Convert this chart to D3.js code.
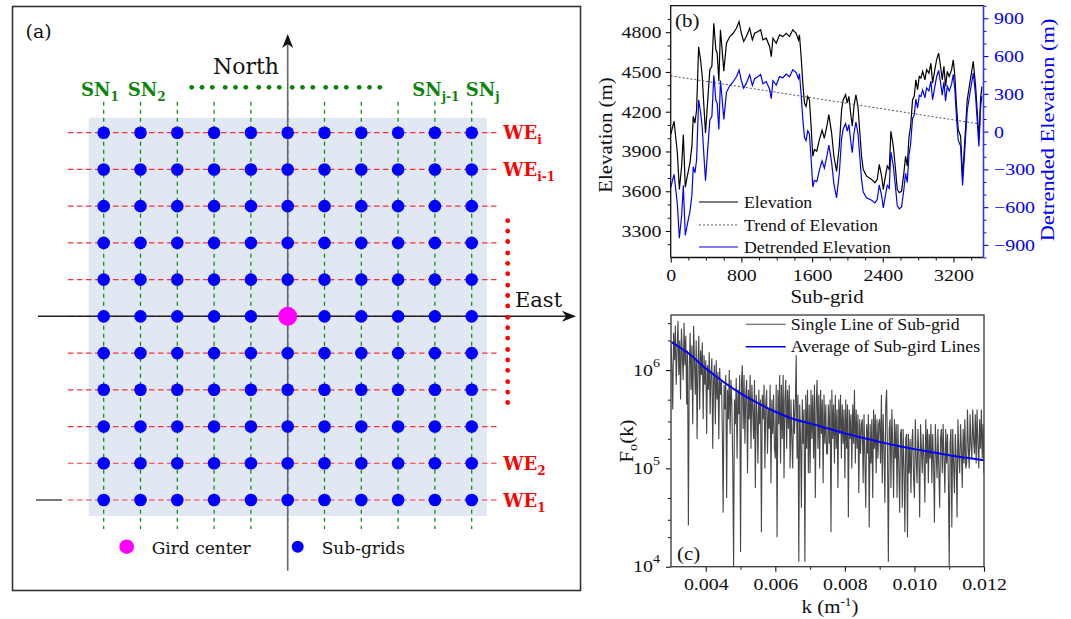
<!DOCTYPE html>
<html><head><meta charset="utf-8">
<script src="https://cdn.jsdelivr.net/npm/d3@7"></script>
<style>body{margin:0;background:#fff}svg{display:block}</style>
</head><body>
<svg id="fig" width="1071" height="619"></svg>
<script>
// ---------------- DATA ----------------
// Panel (a): schematic grid (11 x 11 sub-grids)
const gridCols = [0,1,2,3,4,5,6,7,8,9,10];
const gridRows = [0,1,2,3,4,5,6,7,8,9,10];
const colLabels = [{col:0, base:"SN", sub:"1"}, {col:1, base:"SN", sub:"2"}, {col:9, base:"SN", sub:"j-1"}, {col:10, base:"SN", sub:"j"}];
const rowLabels = [{row:0, base:"WE", sub:"i"}, {row:1, base:"WE", sub:"i-1"}, {row:9, base:"WE", sub:"2"}, {row:10, base:"WE", sub:"1"}];
const legendA = ["Gird center", "Sub-grids"];

// Panel (b): elevation profile along sub-grid
const subGridX = [0,38,75,98,124,143,165,188,218,240,255,274,293,316,338,357,376,394,417,443,466,488,511,526,545,563,582,601,631,669,706,744,774,800,826,856,894,924,950,988,1018,1044,1082,1119,1138,1157,1194,1232,1270,1307,1345,1382,1420,1446,1457,1476,1495,1514,1532,1551,1570,1589,1608,1626,1653,1683,1713,1739,1770,1790,1821,1847,1877,1908,1934,1953,1979,1998,2017,2036,2055,2074,2096,2119,2141,2160,2179,2217,2274,2311,2338,2360,2387,2406,2424,2451,2473,2492,2519,2541,2564,2587,2613,2639,2658,2677,2696,2715,2737,2756,2775,2794,2813,2832,2851,2877,2896,2922,2945,2964,2986,3009,3032,3054,3073,3092,3111,3130,3152,3179,3198,3216,3235,3254,3281,3303,3330,3356,3386,3424,3450,3469,3488,3507,3522];
const elevation = [4027,4128,3890,3614,3790,4027,3630,3714,3814,3940,4165,4115,4215,4690,4592,4466,4240,4040,4266,4517,4542,4868,4667,4642,4430,4818,4667,4505,4717,4767,4792,4830,4880,4792,4730,4767,4830,4742,4792,4805,4818,4742,4755,4692,4615,4755,4717,4780,4767,4792,4767,4818,4792,4742,4780,4617,4416,4266,4240,4316,4290,4090,3864,3915,3902,3990,4060,4000,4100,4178,4040,3864,3750,3940,4216,4291,4328,4266,4316,4190,4090,4240,4328,4240,4040,3864,3764,3714,3689,3664,3689,3802,3714,3614,3689,3790,3764,4052,3940,3790,3614,3589,3601,3739,3864,3790,4002,4090,4291,4316,4441,4366,4466,4454,4504,4441,4517,4491,4566,4416,4504,4592,4642,4542,4441,4542,4391,4504,4466,4517,4592,4466,4240,4065,4015,3700,4000,4290,4420,4580,4400,4200,3990,4300,4390];
const detrended = [-444,-339,-573,-847,-668,-429,-824,-737,-634,-506,-279,-328,-226,252,156,32,-192,-390,-162,92,119,448,249,226,16,406,257,97,312,366,394,436,489,404,345,385,452,367,420,437,453,380,397,337,262,404,370,437,428,457,436,491,469,421,461,300,100,-48,-72,6,-18,-216,-440,-387,-397,-306,-233,-290,-187,-107,-242,-415,-526,-333,-54,23,63,3,55,-69,-167,-15,75,-11,-208,-382,-480,-526,-545,-567,-539,-424,-509,-607,-530,-426,-450,-160,-269,-417,-590,-613,-598,-458,-331,-403,-189,-99,105,132,259,186,288,278,330,269,347,324,401,253,344,434,486,389,290,393,244,359,323,377,454,330,105,-68,-115,-428,-125,168,301,465,288,90,-118,194,285];
const trendX = [0, 3540];
const trendY = [4471, 4103];
const elevTicks = [3300,3600,3900,4200,4500,4800];
const detTicks = [-900,-600,-300,0,300,600,900];
const subGridTicks = [0,800,1600,2400,3200];
const legendB = ["Elevation", "Trend of Elevation", "Detrended Elevation"];

// Panel (c): spectrum F_o(k) (log10 values), k from 0.003 step 0.000025
const kStart = 0.003, kStep = 0.000025;
const singleLineLog = [
6.25,6.05,5.60,6.38,6.10,6.45,5.85,6.20,6.50,5.95,6.30,5.70,6.42,6.15,5.90,6.48,6.05,6.35,5.65,6.20,
4.42,6.00,6.38,5.80,6.25,5.45,6.45,6.10,5.75,6.30,5.30,6.05,6.35,5.60,6.20,5.95,6.28,5.50,6.15,5.85,
6.10,5.35,6.05,5.80,6.18,5.55,5.95,6.12,5.20,5.90,6.05,5.45,6.10,5.70,5.98,5.30,6.02,5.75,5.88,5.40,
4.55,5.85,5.60,5.95,4.70,5.80,5.50,6.00,5.35,5.90,5.65,5.05,4.00,5.70,5.45,5.92,5.10,5.80,5.55,5.95,
4.15,5.85,6.05,5.40,5.95,5.25,5.75,5.90,4.95,5.80,5.50,5.95,5.20,5.85,5.60,5.30,5.90,4.80,5.75,5.55,
5.05,5.80,5.45,5.70,4.35,5.75,5.50,5.85,5.00,5.65,5.80,5.15,5.60,5.40,5.85,4.85,5.70,5.35,5.75,5.20,
5.10,5.85,4.30,5.80,5.45,5.95,5.05,5.85,5.30,5.95,4.90,5.70,5.90,5.20,5.80,5.40,5.85,5.00,5.70,5.30,
5.00,5.70,5.35,5.65,6.15,5.10,5.75,4.05,5.65,5.30,4.60,5.70,5.25,5.60,4.05,5.75,5.20,5.80,4.95,5.65,
4.95,5.80,5.30,5.75,5.10,5.85,4.70,5.65,5.90,5.20,5.75,5.00,5.80,5.35,5.70,4.85,5.75,5.25,5.65,5.15,
5.15,5.65,5.25,5.70,4.35,5.80,5.30,5.65,5.05,5.75,5.20,5.60,4.80,5.70,5.35,5.75,5.10,5.65,5.25,5.60,
4.90,5.70,5.20,5.65,4.50,5.60,5.30,5.55,5.00,5.65,5.25,5.80,5.05,5.60,5.20,5.55,4.75,5.50,5.15,5.45,
5.50,4.85,5.55,5.10,4.60,5.45,5.15,5.55,4.40,5.45,5.05,5.50,4.70,5.60,5.20,5.55,4.95,5.50,5.10,5.45,
5.50,5.05,5.75,4.85,5.55,5.20,4.65,5.65,5.80,5.15,4.05,5.40,5.50,4.80,5.60,5.25,4.70,5.50,5.10,5.45,
4.70,5.45,5.05,4.55,5.35,5.40,4.60,5.40,5.00,4.35,5.30,5.35,4.30,5.35,4.95,5.30,4.75,5.25,5.40,4.90,
4.70,5.50,5.10,4.85,5.40,5.15,4.50,5.45,5.20,4.95,5.35,5.10,4.65,5.50,5.05,5.40,4.85,5.35,5.10,5.45,
4.85,5.35,5.05,4.45,5.45,5.15,4.90,5.40,5.00,4.60,5.30,5.40,4.95,5.45,5.10,4.75,5.40,5.05,5.35,4.90,
4.00,5.25,5.40,4.40,5.40,5.05,4.75,5.35,5.10,4.50,5.50,5.15,4.95,5.45,5.20,4.80,5.40,5.05,5.50,5.00,
5.05,5.60,5.20,5.00,5.55,5.25,5.10,5.60,5.30,5.15,5.55,5.05,5.60,5.25,5.00,5.50,5.20,5.60,5.10,5.45,
4.95];
const avgK = [0.003,0.0035,0.004,0.0045,0.005,0.0055,0.006,0.0065,0.007,0.0075,0.008,0.0085,0.009,0.0095,0.010,0.0105,0.011,0.0115,0.012];
const avgF = [1.94e6,1.48e6,1.04e6,7.6e5,5.8e5,4.6e5,3.77e5,3.2e5,2.87e5,2.55e5,2.27e5,2.05e5,1.86e5,1.7e5,1.57e5,1.46e5,1.36e5,1.28e5,1.21e5];
const kTicks = [0.004,0.006,0.008,0.010,0.012];
const kMinor = [0.005,0.007,0.009,0.011];
const fTicks = [1e4,1e5,1e6];
const fMinor = [2e4,3e4,5e4,2e5,3e5,5e5,2e6,3e6];
const legendC = ["Single Line of Sub-grid", "Average of Sub-gird Lines"];

// ---------------- DRAW ----------------
const svg = d3.select("#fig");
const SERIF_A = "DejaVu Serif, serif";
const SERIF = "Liberation Serif, Times New Roman, serif";

function stext(g, x, y, str, o) {
  o = o || {};
  const t = g.append("text")
    .attr("transform", `translate(${x},${y})` + (o.rot ? ` rotate(${o.rot})` : "") + ` scale(${o.sx || 1},1)`)
    .attr("font-family", o.font || SERIF)
    .attr("font-size", o.size || 17)
    .attr("fill", o.fill || "#111")
    .attr("font-weight", o.weight || "normal")
    .attr("text-anchor", o.anchor || "start");
  if (str !== null) t.text(str);
  return t;
}

// ===== Panel (a) =====
const gA = svg.append("g");
const xA = d3.scaleLinear([0, 10], [103.7, 471.7]);
const yA = d3.scaleLinear([0, 10], [132.7, 500]);
const cC = 5, cR = 5;

gA.append("rect").attr("x", 12.5).attr("y", 6.5).attr("width", 568).attr("height", 584)
  .attr("fill", "none").attr("stroke", "#333").attr("stroke-width", 1.6);
gA.append("rect").attr("x", 88.7).attr("y", 117.7).attr("width", 398).attr("height", 398.3)
  .attr("fill", "#e1e7f3");

gA.selectAll("line.we").data(gridRows).join("line").attr("class", "we")
  .attr("x1", 68).attr("x2", 500).attr("y1", d => yA(d)).attr("y2", d => yA(d))
  .attr("stroke", "#ff3030").attr("stroke-width", 1.2).attr("stroke-dasharray", "5.5,3.5");
gA.selectAll("line.sn").data(gridCols).join("line").attr("class", "sn")
  .attr("x1", d => xA(d)).attr("x2", d => xA(d)).attr("y1", 101.7).attr("y2", 529)
  .attr("stroke", "#0a850a").attr("stroke-width", 1.2).attr("stroke-dasharray", "4,4");

// North axis
gA.append("line").attr("x1", xA(cC)).attr("x2", xA(cC)).attr("y1", 570.7).attr("y2", 42)
  .attr("stroke", "#666").attr("stroke-width", 1.6);
gA.append("path").attr("d", `M${xA(cC)},34 L${xA(cC)-5.5},48 L${xA(cC)},44 L${xA(cC)+5.5},48 Z`).attr("fill", "#111");
// East axis
gA.append("line").attr("x1", 38).attr("x2", 568).attr("y1", yA(cR)).attr("y2", yA(cR))
  .attr("stroke", "#222").attr("stroke-width", 1.5);
gA.append("path").attr("d", `M576,${yA(cR)} L562,${yA(cR)-5.5} L566,${yA(cR)} L562,${yA(cR)+5.5} Z`).attr("fill", "#111");
gA.append("line").attr("x1", 36).attr("x2", 62).attr("y1", yA(10)).attr("y2", yA(10))
  .attr("stroke", "#222").attr("stroke-width", 1.2);

// sub-grid dots
const cells = [];
gridRows.forEach(r => gridCols.forEach(c => cells.push({r, c})));
gA.selectAll("circle.sub").data(cells.filter(d => !(d.r === cR && d.c === cC))).join("circle")
  .attr("class", "sub").attr("cx", d => xA(d.c)).attr("cy", d => yA(d.r)).attr("r", 6.3).attr("fill", "#0000ff");
gA.append("circle").attr("cx", xA(cC)).attr("cy", yA(cR)).attr("r", 9.5).attr("fill", "#ff00ff");

// ellipsis dots (green horizontal, red vertical)
for (let g = 0; g < 6; g++) for (let d = 0; d < 3; d++)
  gA.append("circle").attr("cx", 191.7 + g * 33.5 + d * 10.3).attr("cy", 87.3).attr("r", 2.4).attr("fill", "#0a850a");
for (let g = 0; g < 6; g++) for (let d = 0; d < 3; d++)
  gA.append("circle").attr("cx", 507.7).attr("cy", 220.7 + g * 32.2 + d * 10.4).attr("r", 2.4).attr("fill", "#ff0000");

// labels
const snX = [81, 127.7, 412.3, 465.7];
colLabels.forEach((l, i) => {
  const t = stext(gA, snX[i], 95.7, null, {font: SERIF_A, size: 18, weight: "bold", fill: "#0a850a"});
  t.append("tspan").text(l.base);
  t.append("tspan").attr("font-size", 12).attr("dy", 5).text(l.sub);
});
rowLabels.forEach(l => {
  const t = stext(gA, 503.3, yA(l.row) + 6.5, null, {font: SERIF_A, size: 18, weight: "bold", fill: "#ff0000"});
  t.append("tspan").text(l.base);
  t.append("tspan").attr("font-size", 12).attr("dy", 5).text(l.sub);
});
stext(gA, 213, 74, "North", {font: SERIF_A, size: 22});
stext(gA, 515, 306.7, "East", {font: SERIF_A, size: 21});
stext(gA, 25.5, 38, "(a)", {font: SERIF_A, size: 19});
gA.append("circle").attr("cx", 126.7).attr("cy", 546.7).attr("r", 7.3).attr("fill", "#ff00ff");
stext(gA, 151.7, 553.5, legendA[0], {font: SERIF_A, size: 17});
gA.append("circle").attr("cx", 297.7).attr("cy", 546.7).attr("r", 6).attr("fill", "#0000ff");
stext(gA, 321.7, 553.5, legendA[1], {font: SERIF_A, size: 17});

// ===== Panel (b) =====
const gB = svg.append("g");
const bL = 670.7, bR = 983.5, bT = 5.7, bB = 257.5;
const xB = d3.scaleLinear([0, 3540], [bL, bR]);
const yB = d3.scaleLinear([3100, 5000], [bB, bT]);
const yB2 = d3.scaleLinear([-1000, 1000], [bB, bT]);
const SX = 1.17;
const fmtInt = d3.format("d");

function styleAxis(g, color, sx) {
  g.select(".domain").remove();
  g.selectAll("line").attr("stroke", color).attr("stroke-width", 1.1);
  g.selectAll("text").attr("font-family", SERIF).attr("font-size", 17).attr("fill", color)
    .attr("transform", `scale(${sx},1)`);
}
const range = (a, b, s) => d3.range(a, b + s / 2, s);

gB.append("clipPath").attr("id", "clipB").append("rect")
  .attr("x", bL).attr("y", bT).attr("width", bR - bL).attr("height", bB - bT);

const lineB = d3.line().x((d, i) => xB(subGridX[i])).y(d => yB(d));
const lineB2 = d3.line().x((d, i) => xB(subGridX[i])).y(d => yB2(d));
const plotB = gB.append("g").attr("clip-path", "url(#clipB)");
plotB.append("path").datum(elevation).attr("d", lineB).attr("fill", "none").attr("stroke", "#000").attr("stroke-width", 1.2);
plotB.append("path").datum(trendY).attr("d", d3.line().x((d, i) => xB(trendX[i])).y(d => yB(d)))
  .attr("fill", "none").attr("stroke", "#555").attr("stroke-width", 1).attr("stroke-dasharray", "2,2");
plotB.append("path").datum(detrended).attr("d", lineB2).attr("fill", "none").attr("stroke", "#0000ff").attr("stroke-width", 1.2);

// left axis
const axL = gB.append("g").attr("transform", `translate(${bL},0)`)
  .call(d3.axisLeft(yB).tickValues(elevTicks).tickFormat(fmtInt).tickSize(5).tickPadding(3).tickSizeOuter(0));
styleAxis(axL, "#111", SX);
gB.append("g").attr("transform", `translate(${bL},0)`)
  .call(d3.axisLeft(yB).tickValues(range(3200, 4900, 100).filter(v => !elevTicks.includes(v))).tickSize(3).tickFormat(""))
  .call(g => { g.select(".domain").remove(); g.selectAll("line").attr("stroke", "#111"); });
// right axis
const axR = gB.append("g").attr("transform", `translate(${bR},0)`)
  .call(d3.axisRight(yB2).tickValues(detTicks).tickFormat(fmtInt).tickSize(5).tickPadding(4).tickSizeOuter(0));
styleAxis(axR, "#0000ff", SX);
gB.append("g").attr("transform", `translate(${bR},0)`)
  .call(d3.axisRight(yB2).tickValues(range(-1000, 1000, 100).filter(v => !detTicks.includes(v))).tickSize(3).tickFormat(""))
  .call(g => { g.select(".domain").remove(); g.selectAll("line").attr("stroke", "#0000ff"); });
// bottom axis
const axBt = gB.append("g").attr("transform", `translate(0,${bB})`)
  .call(d3.axisBottom(xB).tickValues(subGridTicks).tickFormat(fmtInt).tickSize(5).tickPadding(6).tickSizeOuter(0));
styleAxis(axBt, "#111", SX);
gB.append("g").attr("transform", `translate(0,${bB})`)
  .call(d3.axisBottom(xB).tickValues(range(200, 3400, 200).filter(v => !subGridTicks.includes(v))).tickSize(3).tickFormat(""))
  .call(g => { g.select(".domain").remove(); g.selectAll("line").attr("stroke", "#111"); });
// frame
gB.append("path").attr("d", `M${bL},${bB} L${bL},${bT} L${bR},${bT}`).attr("fill", "none").attr("stroke", "#111").attr("stroke-width", 1.3);
gB.append("line").attr("x1", bL).attr("x2", bR).attr("y1", bB).attr("y2", bB).attr("stroke", "#111").attr("stroke-width", 1.3);
gB.append("line").attr("x1", bR).attr("x2", bR).attr("y1", bT).attr("y2", bB).attr("stroke", "#3333ff").attr("stroke-width", 1.6);

// legend b
const legBy = [202, 225, 247];
const legBstyle = [{c: "#000", dash: null}, {c: "#555", dash: "2,2"}, {c: "#0000ff", dash: null}];
legendB.forEach((s, i) => {
  gB.append("line").attr("x1", 699).attr("x2", 738).attr("y1", legBy[i]).attr("y2", legBy[i])
    .attr("stroke", legBstyle[i].c).attr("stroke-width", 1.2).attr("stroke-dasharray", legBstyle[i].dash);
  stext(gB, 744, legBy[i] + 5.5, s, {size: 16.5, sx: 1.08});
});
stext(gB, 675, 26.5, "(b)", {size: 19, sx: 1.1});
stext(gB, 612, 135, "Elevation (m)", {size: 19, sx: 1.1, rot: -90, anchor: "middle"});
stext(gB, 1054, 130, "Detrended Elevation (m)", {size: 19, sx: 1.18, rot: -90, anchor: "middle", fill: "#0000ff"});
stext(gB, 827, 303, "Sub-grid", {size: 19, sx: 1.1, anchor: "middle"});

// ===== Panel (c) =====
const gC = svg.append("g");
const cL = 671, cRt = 984, cT = 315, cB = 566.7;
const xC = d3.scaleLinear([0.003, 0.012], [cL, cRt]);
const yC = d3.scaleLog([1e4, Math.pow(10, 6.56)], [cB, cT]);
gC.append("clipPath").attr("id", "clipC").append("rect")
  .attr("x", cL).attr("y", cT).attr("width", cRt - cL).attr("height", cB - cT);
const plotC = gC.append("g").attr("clip-path", "url(#clipC)");
plotC.append("path").datum(singleLineLog)
  .attr("d", d3.line().x((d, i) => xC(kStart + i * kStep)).y(d => yC(Math.pow(10, d))))
  .attr("fill", "none").attr("stroke", "#474747").attr("stroke-width", 1.1);
plotC.append("path").datum(avgF)
  .attr("d", d3.line().curve(d3.curveMonotoneX).x((d, i) => xC(avgK[i])).y(d => yC(d)))
  .attr("fill", "none").attr("stroke", "#0000ff").attr("stroke-width", 2);

const axCx = gC.append("g").attr("transform", `translate(0,${cB})`)
  .call(d3.axisBottom(xC).tickValues(kTicks).tickFormat(d3.format(".3f")).tickSize(5).tickPadding(6).tickSizeOuter(0));
styleAxis(axCx, "#111", SX);
gC.append("g").attr("transform", `translate(0,${cB})`)
  .call(d3.axisBottom(xC).tickValues(kMinor).tickSize(3).tickFormat(""))
  .call(g => { g.select(".domain").remove(); g.selectAll("line").attr("stroke", "#111"); });
const axCy = gC.append("g").attr("transform", `translate(${cL},0)`)
  .call(d3.axisLeft(yC).tickValues(fTicks).tickFormat(() => "").tickSize(5).tickPadding(3).tickSizeOuter(0));
styleAxis(axCy, "#111", SX);
axCy.selectAll(".tick text").each(function(d) {
  const t = d3.select(this).attr("dy", "0.3em").attr("x", -9.5);
  t.append("tspan").text("10");
  t.append("tspan").attr("font-size", 12).attr("dy", "-0.75em").text(Math.round(Math.log10(d)));
});
gC.append("g").attr("transform", `translate(${cL},0)`)
  .call(d3.axisLeft(yC).tickValues(fMinor).tickSize(3).tickFormat(""))
  .call(g => { g.select(".domain").remove(); g.selectAll("line").attr("stroke", "#111"); });
gC.append("rect").attr("x", cL).attr("y", cT).attr("width", cRt - cL).attr("height", cB - cT)
  .attr("fill", "none").attr("stroke", "#444").attr("stroke-width", 1.4);

// legend c
const legCy = [324.3, 346.7];
const legCc = ["#4d4d4d", "#0000ff"];
legendC.forEach((s, i) => {
  gC.append("line").attr("x1", 745.7).attr("x2", 785.7).attr("y1", legCy[i]).attr("y2", legCy[i])
    .attr("stroke", legCc[i]).attr("stroke-width", i ? 1.6 : 1.1);
  stext(gC, 790.7, legCy[i] + 5.5, s, {size: 17, sx: 1.05});
});
stext(gC, 677, 560, "(c)", {size: 19, sx: 1.1});
{
  const t = stext(gC, 633, 441, null, {size: 19, sx: 1.1, rot: -90, anchor: "middle"});
  t.append("tspan").text("F");
  t.append("tspan").attr("font-size", 13).attr("dy", 4).text("o");
  t.append("tspan").attr("dy", -4).text("(k)");
}
{
  const t = stext(gC, 830, 613, null, {size: 19, sx: 1.1, anchor: "middle"});
  t.append("tspan").text("k (m");
  t.append("tspan").attr("font-size", 12).attr("dy", -7).text("-1");
  t.append("tspan").attr("dy", 7).text(")");
}
</script>
</body></html>
